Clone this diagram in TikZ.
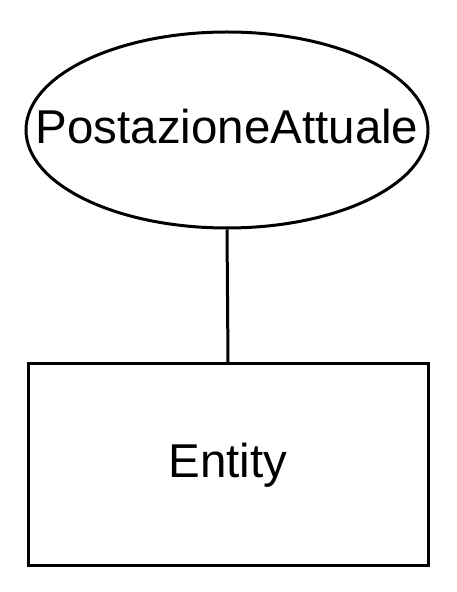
\documentclass[tikz,border=0pt]{standalone}
\usepackage{fontspec}
\setmainfont{Liberation Sans}
\usetikzlibrary{shapes.geometric}
\begin{document}
\begin{tikzpicture}[x=1pt,y=1pt,
  lbl/.style={font=\fontsize{47.5}{50}\selectfont, inner sep=0pt},
  attr/.style={draw, line width=3pt, ellipse, minimum width=402pt, minimum height=196pt, inner sep=0pt},
  ent/.style={draw, line width=3pt, rectangle, minimum width=400pt, minimum height=202pt, inner sep=0pt},
  conn/.style={line width=3pt}]
\useasboundingbox[fill=white] (0,0) rectangle (456,592);
\node[attr] (attr) at (227,462) {};
\node[lbl] at ([yshift=3pt]attr.center) {PostazioneAttuale};
\node[ent] (ent) at (228,127) {};
\node[lbl] at (ent.center) {Entity};
\draw[conn] (attr.south) -- (ent.north);
\end{tikzpicture}
\end{document}
